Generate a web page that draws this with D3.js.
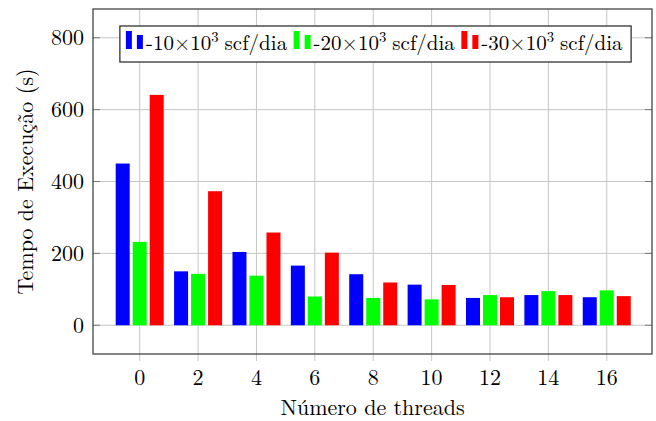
<!DOCTYPE html>
<html>
<head>
<meta charset="utf-8">
<script src="https://cdn.jsdelivr.net/npm/d3@7/dist/d3.min.js"></script>
<style>
  body { margin: 0; background: #fff; }
  svg { display: block; font-family: "Latin Modern Roman", "CMU Serif", "Liberation Serif", serif; }
</style>
</head>
<body>
<div id="chart"></div>
<script>
// data
const threads = [0, 2, 4, 6, 8, 10, 12, 14, 16];
const serie10 = [450, 150, 204, 166, 142, 113, 76, 84, 78];
const serie20 = [232, 143, 138, 80, 76, 72, 84, 95, 97];
const serie30 = [641, 373, 258, 202, 119, 112, 78, 84, 81];
const seriesNames = ['-10', '-20', '-30'];
const seriesColors = ['#0000ff', '#00ff00', '#ff0000'];
const yTicks = [0, 200, 400, 600, 800];
const xTicks = [0, 2, 4, 6, 8, 10, 12, 14, 16];

const width = 656, height = 421;
const margin = { top: 9, right: 4, bottom: 67, left: 93 };
const fontSize = 22;
const legendFont = 21;

const svg = d3.select('#chart').append('svg')
  .attr('width', width)
  .attr('height', height);

const x = d3.scaleLinear()
  .domain([-1.6, 17.55])
  .range([margin.left, width - margin.right]);

const y = d3.scaleLinear()
  .domain([-80, 880])
  .range([height - margin.bottom, margin.top]);

// grid
svg.append('g')
  .selectAll('line')
  .data(xTicks)
  .join('line')
  .attr('x1', d => x(d)).attr('x2', d => x(d))
  .attr('y1', margin.top).attr('y2', height - margin.bottom + 7)
  .attr('stroke', '#c6c6c6').attr('stroke-width', 1);

svg.append('g')
  .selectAll('line')
  .data(yTicks)
  .join('line')
  .attr('x1', margin.left).attr('x2', width - margin.right)
  .attr('y1', d => y(d)).attr('y2', d => y(d))
  .attr('stroke', '#c6c6c6').attr('stroke-width', 1);

// bars
const barW = 14, step = 17;
const allSeries = [serie10, serie20, serie30];
allSeries.forEach((vals, i) => {
  svg.append('g')
    .attr('fill', seriesColors[i])
    .selectAll('rect')
    .data(vals)
    .join('rect')
    .attr('x', (d, j) => x(threads[j]) + (i - 1) * step - barW / 2)
    .attr('y', d => y(d))
    .attr('width', barW)
    .attr('height', d => y(0) - y(d));
});

// y ticks inward, both sides
svg.append('g')
  .selectAll('line')
  .data(yTicks)
  .join('line')
  .attr('x1', margin.left).attr('x2', margin.left + 7)
  .attr('y1', d => y(d)).attr('y2', d => y(d))
  .attr('stroke', '#777');
svg.append('g')
  .selectAll('line')
  .data(yTicks)
  .join('line')
  .attr('x1', width - margin.right - 7).attr('x2', width - margin.right)
  .attr('y1', d => y(d)).attr('y2', d => y(d))
  .attr('stroke', '#777');

// frame
svg.append('rect')
  .attr('x', margin.left).attr('y', margin.top)
  .attr('width', width - margin.right - margin.left)
  .attr('height', height - margin.bottom - margin.top)
  .attr('fill', 'none').attr('stroke', '#444').attr('stroke-width', 1.3);

// tick labels
svg.append('g')
  .selectAll('text')
  .data(yTicks)
  .join('text')
  .attr('x', margin.left - 9)
  .attr('y', d => y(d))
  .attr('dy', '0.34em')
  .attr('text-anchor', 'end')
  .attr('font-size', fontSize)
  .text(d => d);

svg.append('g')
  .selectAll('text')
  .data(xTicks)
  .join('text')
  .attr('x', d => x(d))
  .attr('y', 385)
  .attr('text-anchor', 'middle')
  .attr('font-size', fontSize)
  .text(d => d);

// axis titles
svg.append('text')
  .attr('x', (margin.left + width - margin.right) / 2)
  .attr('y', 415)
  .attr('text-anchor', 'middle')
  .attr('font-size', fontSize)
  .text('Número de threads');

svg.append('text')
  .attr('transform', `translate(33,${(margin.top + height - margin.bottom) / 2}) rotate(-90)`)
  .attr('text-anchor', 'middle')
  .attr('font-size', fontSize)
  .text('Tempo de Execução (s)');

// legend
const legend = svg.append('g');
let cursor = 0;
seriesNames.forEach((name, i) => {
  const g = legend.append('g');
  g.append('rect').attr('x', cursor).attr('y', 5).attr('width', 6).attr('height', 18).attr('fill', seriesColors[i]);
  g.append('rect').attr('x', cursor + 11).attr('y', 9).attr('width', 6).attr('height', 14).attr('fill', seriesColors[i]);
  const t = g.append('text')
    .attr('x', cursor + 20)
    .attr('y', 24)
    .attr('font-size', legendFont);
  t.append('tspan').text(name + '×10');
  t.append('tspan').attr('font-size', legendFont * 0.7).attr('dy', -8).text('3');
  t.append('tspan').attr('dy', 8).attr('dx', 6).text('scf/dia');
  cursor += 20 + t.node().getBBox().width + 6;
});
const legW = cursor - 2;
const legX = (margin.left + width - margin.right) / 2 - legW / 2;
legend.insert('rect', ':first-child')
  .attr('x', -6).attr('y', 0)
  .attr('width', legW + 10).attr('height', 36)
  .attr('fill', '#fff').attr('stroke', '#222').attr('stroke-width', 1.2);
legend.attr('transform', `translate(${legX + 4},26)`);
</script>
</body>
</html>
